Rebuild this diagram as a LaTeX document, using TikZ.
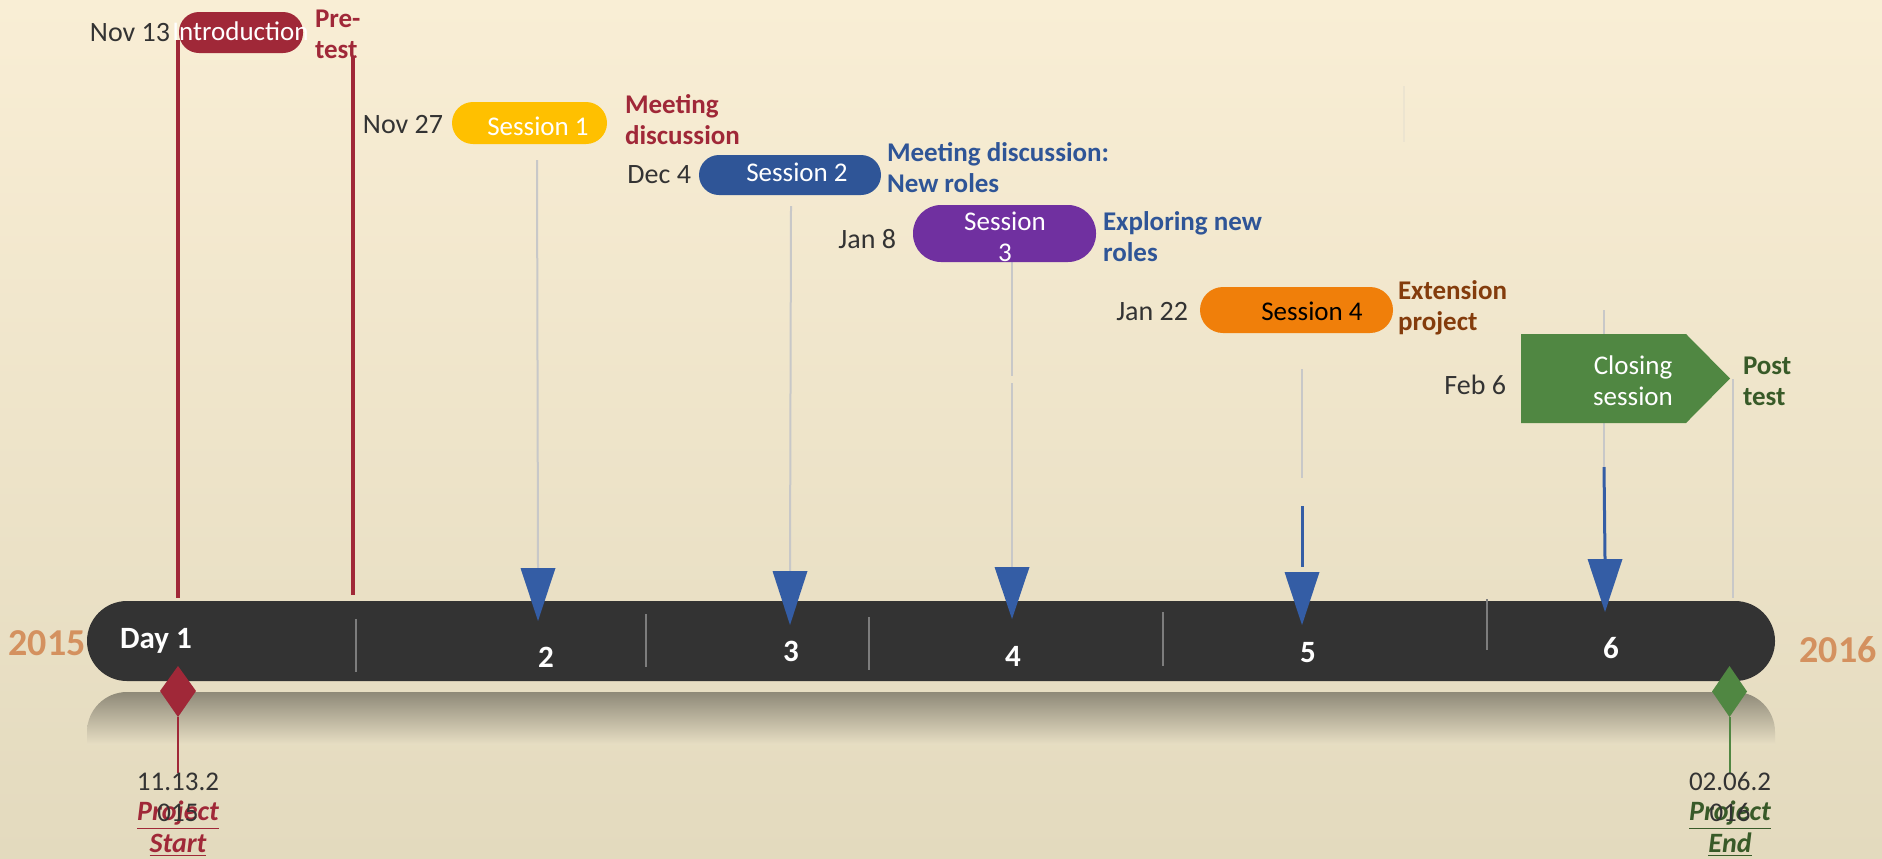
\documentclass[tikz,border=0pt]{standalone}
\usepackage{fontspec}
\setmainfont{Carlito}
\usetikzlibrary{calc}

\definecolor{bgtop}{RGB}{249,238,213}
\definecolor{bgbot}{RGB}{227,218,190}
\definecolor{bgmid}{RGB}{232,223,196}
\definecolor{reflc}{RGB}{142,137,120}
\definecolor{barc}{RGB}{51,51,51}
\definecolor{tickc}{RGB}{125,125,125}
\definecolor{guidec}{RGB}{200,200,200}
\definecolor{faintc}{RGB}{236,228,208}
\definecolor{introc}{RGB}{160,40,56}
\definecolor{yellowc}{RGB}{255,192,0}
\definecolor{bluec}{RGB}{47,85,151}
\definecolor{purplec}{RGB}{112,48,160}
\definecolor{orangec}{RGB}{240,127,10}
\definecolor{greenc}{RGB}{80,135,66}
\definecolor{arrowc}{RGB}{52,93,165}
\definecolor{datec}{RGB}{51,51,51}
\definecolor{brownc}{RGB}{132,60,12}
\definecolor{dgreenc}{RGB}{56,90,40}
\definecolor{yearc}{RGB}{212,145,95}

\begin{document}
\begin{tikzpicture}[x=0.5pt, y=-0.5pt,
  every node/.style={inner sep=0pt, outer sep=0pt},
  guide/.style={draw=guidec, line width=1pt},
  redbar/.style={draw=introc, line width=2pt},
  bluebar/.style={draw=arrowc, line width=1.5pt},
  tri/.style={fill=arrowc},
  tick/.style={draw=tickc, line width=1.2pt},
  pill/.style={rounded corners=#1},
  datelbl/.style={text=datec, font=\fontsize{14}{15.5}\selectfont, anchor=east},
  note/.style={font=\bfseries\fontsize{13.5}{15.5}\selectfont, anchor=west, align=left},
  pilltxt/.style={text=white, font=\fontsize{13.5}{15.5}\selectfont, align=center},
  barnum/.style={text=white, font=\bfseries\fontsize{15.5}{18}\selectfont},
  year/.style={text=yearc, font=\bfseries\fontsize{19}{22}\selectfont},
  stamp/.style={text=datec, font=\fontsize{13.5}{15.5}\selectfont, align=center},
  milestone/.style={font=\bfseries\itshape\fontsize{14}{16}\selectfont, align=center}
]
\useasboundingbox (0,0) rectangle (1882,858);

% background
\shade[top color=bgtop, bottom color=bgbot] (0,0) rectangle (1882,858);

% reflection under the timeline bar
\shade[top color=reflc, bottom color=bgmid]
  (87,745) -- (87,732) arc[start angle=180, end angle=270, radius=40]
  -- (1735,692) arc[start angle=270, end angle=360, radius=40]
  -- (1775,745) -- cycle;

% faint mark, top right
\coordinate (f1) at (1404,86);
\coordinate (f2) at (1404,142);
\draw[draw=faintc, line width=0.8pt] (f1) -- (f2);

% ---------- guide lines and arrows ----------
% session 1
\coordinate (g1a) at (537,160);
\coordinate (k1) at (538,568);
\draw[guide] (g1a) -- (k1);
% session 2
\coordinate (g2a) at (791,206);
\coordinate (k2) at (790,571);
\draw[guide] (g2a) -- (k2);
% session 3
\coordinate (g3a) at (1012,262);
\coordinate (g3b) at (1012,376);
\coordinate (g3c) at (1012,383);
\coordinate (k3) at (1012,567);
\draw[guide] (g3a) -- (g3b);
\draw[guide] (g3c) -- (k3);
% session 4
\coordinate (g4a) at (1302,369);
\coordinate (g4b) at (1302,478);
\coordinate (g4c) at (1302,506);
\coordinate (k4) at (1302,572);
\draw[guide] (g4a) -- (g4b);
\draw[bluebar] (g4c) -- ($(k4)+(0,-5)$);
% closing session
\coordinate (g5a) at (1604,310);
\coordinate (g5b) at (1604,467);
\coordinate (k5) at (1605,559);
\draw[guide] (g5a) -- (g5b);
\draw[bluebar] (g5b) -- (k5);
% post test
\coordinate (g6a) at (1733,379);
\coordinate (g6b) at (1733,598);
\draw[guide] (g6a) -- (g6b);

% red lines of the introduction
\coordinate (r1a) at (178,40);
\coordinate (r1b) at (178,598);
\coordinate (r2a) at (353,57);
\coordinate (r2b) at (353,595);
\draw[redbar] (r1a) -- (r1b);
\draw[redbar] (r2a) -- (r2b);

% ---------- timeline bar ----------
\node[fill=barc, pill=20pt, minimum width=844pt, minimum height=40pt] (bar) at (931,641) {};

\coordinate (t1a) at (356,619); \coordinate (t1b) at (356,672);
\coordinate (t2a) at (646,614); \coordinate (t2b) at (646,667);
\coordinate (t3a) at (869,617); \coordinate (t3b) at (869,670);
\coordinate (t4a) at (1163,612); \coordinate (t4b) at (1163,666);
\coordinate (t5a) at (1487,599); \coordinate (t5b) at (1487,650);
\draw[tick] (t1a) -- (t1b);
\draw[tick] (t2a) -- (t2b);
\draw[tick] (t3a) -- (t3b);
\draw[tick] (t4a) -- (t4b);
\draw[tick] (t5a) -- (t5b);

\node[barnum] (d1) at (156,641) {Day 1};
\node[barnum] (d2) at (546,657) {2};
\node[barnum] (d3) at (791,651) {3};
\node[barnum] (d4) at (1013,656) {4};
\node[barnum] (d5) at (1308,653) {5};
\node[barnum] (d6) at (1611,648) {6};

\node[year] (y1) at (47,643) {2015};
\node[year] (y2) at (1838,650) {2016};

% arrowheads
\fill[tri] (k1) ++(-17.5,0) -- ++(35,0) -- ++(-17.5,53) -- cycle;
\fill[tri] (k2) ++(-17.5,0) -- ++(35,0) -- ++(-17.5,54) -- cycle;
\fill[tri] (k3) ++(-17.5,0) -- ++(35,0) -- ++(-17.5,52) -- cycle;
\fill[tri] (k4) ++(-17.5,0) -- ++(35,0) -- ++(-17.5,53) -- cycle;
\fill[tri] (k5) ++(-17.5,0) -- ++(35,0) -- ++(-17.5,53) -- cycle;

% ---------- sessions ----------
\node[fill=introc, pill=10pt, minimum width=62pt, minimum height=20.5pt] (intro) at (241,32.5) {};
\node[pilltxt] (introt) at (240.5,31) {Introduction};
\node[datelbl] (n13) at (170,33) {Nov 13};
\node[note, text=introc] (pre) at (315,34) {Pre-\\test};

\node[fill=yellowc, pill=10.5pt, minimum width=77.5pt, minimum height=21pt] (s1) at (529.5,123) {};
\node[pilltxt] (s1t) at (538,126) {Session 1};
\node[datelbl] (n27) at (443,125) {Nov 27};
\node[note, text=introc] (m1) at (625,120) {Meeting\\discussion};

\node[fill=bluec, pill=10pt, minimum width=91pt, minimum height=20pt] (s2) at (790,175) {};
\node[pilltxt] (s2t) at (797,172) {Session 2};
\node[datelbl] (dc4) at (691,175) {Dec 4};
\node[note, text=bluec] (m2) at (887,168) {Meeting discussion:\\New roles};

\node[fill=purplec, pill=14pt, minimum width=91.5pt, minimum height=28.5pt] (s3) at (1004.5,233.5) {};
\node[pilltxt] (s3t) at (1005,237) {Session\\3};
\node[datelbl] (jn8) at (896,239) {Jan 8};
\node[note, text=bluec] (m3) at (1103,237) {Exploring new\\roles};

\node[fill=orangec, pill=11.5pt, minimum width=96.5pt, minimum height=23pt] (s4) at (1296.5,310) {};
\node[pilltxt, text=black] (s4t) at (1312,311) {Session 4};
\node[datelbl] (jn22) at (1188,312) {Jan 22};
\node[note, text=brownc] (m4) at (1398,308) {Extension\\project};

\fill[greenc] (1521,334) -- (1686,334) -- (1730,378.5) -- (1686,423) -- (1521,423) -- cycle;
\node[pilltxt] (s5t) at (1633,381) {Closing\\session};
\node[datelbl] (fb6) at (1506,385) {Feb 6};
\node[note, text=dgreenc] (m5) at (1743,381) {Post\\test};

% ---------- milestones ----------
\coordinate (ms1) at (178,717);
\coordinate (ms1e) at (178,773);
\draw[draw=introc, line width=1pt] (ms1) -- (ms1e);
\fill[introc] (178,666) -- (196,691) -- (178,717) -- (160,691) -- cycle;
\node[milestone, text=introc] (ps) at (178,829) {\underline{Project}\\\underline{Start}};
\node[stamp] (ds) at (178,797) {11.13.2\\015};

\coordinate (ms2) at (1729.5,717);
\coordinate (ms2e) at (1729.5,773);
\draw[draw=greenc, line width=1pt] (ms2) -- (ms2e);
\fill[greenc] (1729.5,666) -- (1747,691.5) -- (1729.5,717) -- (1712,691.5) -- cycle;
\node[milestone, text=dgreenc] (pe) at (1730,829) {\underline{Project}\\\underline{End}};
\node[stamp] (de) at (1730,797) {02.06.2\\016};

\end{tikzpicture}
\end{document}
